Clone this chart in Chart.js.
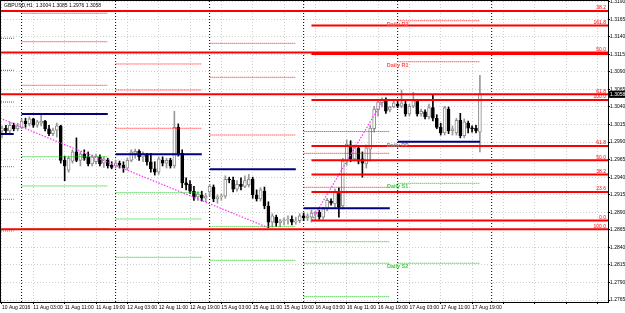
<!DOCTYPE html>
<html>
<head>
<meta charset="utf-8">
<title>GBPUSD,H1</title>
<script src="https://cdn.jsdelivr.net/npm/chart.js@4.4.0/dist/chart.umd.min.js"></script>
<style>
  html, body { margin: 0; padding: 0; background: #fff; }
  #wrap { width: 625px; height: 313px; position: relative; }
</style>
</head>
<body>
<div id="wrap"><canvas id="chart"></canvas></div>
<script>
// hourly bars, index 0 = 10 Aug 2016 19:00 (weekend hours skipped)
const opens = [
  1.3006, 1.3010, 1.3006, 1.3014, 1.3009, 1.3011, 1.3020, 1.3016, 1.3023, 1.3014,
  1.3017, 1.3020, 1.3009, 1.3002, 1.3007, 1.3013, 1.2964, 1.2950, 1.2963, 1.2976,
  1.2964, 1.2973, 1.2969, 1.2959, 1.2962, 1.2969, 1.2960, 1.2964, 1.2957, 1.2956,
  1.2960, 1.2957, 1.2953, 1.2964, 1.2974, 1.2977, 1.2969, 1.2972, 1.2962, 1.2952,
  1.2947, 1.2964, 1.2960, 1.2964, 1.2956, 1.3011, 1.2974, 1.2932, 1.2930, 1.2920,
  1.2912, 1.2915, 1.2910, 1.2919, 1.2926, 1.2909, 1.2912, 1.2913, 1.2937, 1.2936,
  1.2923, 1.2930, 1.2927, 1.2929, 1.2937, 1.2915, 1.2909, 1.2920, 1.2899, 1.2876,
  1.2883, 1.2875, 1.2878, 1.2879, 1.2880, 1.2876, 1.2878, 1.2885, 1.2882, 1.2883,
  1.2888, 1.2890, 1.2883, 1.2895, 1.2906, 1.2902, 1.2920, 1.2899, 1.2963, 1.2986,
  1.2966, 1.2982, 1.2966, 1.2959, 1.2980, 1.3009, 1.3036, 1.3046, 1.3050, 1.3036,
  1.3040, 1.3044, 1.3041, 1.3044, 1.3030, 1.3041, 1.3049, 1.3030, 1.3033, 1.3026,
  1.3039, 1.3024, 1.3011, 1.3003, 1.3037, 1.3006, 1.3003, 1.3021, 1.2999, 1.3017,
  1.3010, 1.3010, 1.3004
];
const highs = [
  1.3013, 1.3014, 1.3019, 1.3017, 1.3017, 1.3023, 1.3024, 1.3026, 1.3024, 1.3021,
  1.3029, 1.3021, 1.3014, 1.3010, 1.3017, 1.3014, 1.2970, 1.2970, 1.2979, 1.2996,
  1.2976, 1.2979, 1.2976, 1.2972, 1.2973, 1.2972, 1.2969, 1.2967, 1.2962, 1.2964,
  1.2963, 1.2962, 1.2967, 1.2979, 1.2980, 1.2979, 1.2976, 1.2974, 1.2974, 1.2962,
  1.2969, 1.2969, 1.2967, 1.2967, 1.3034, 1.3016, 1.2979, 1.2939, 1.2935, 1.2927,
  1.2919, 1.2920, 1.2917, 1.2930, 1.2929, 1.2915, 1.2916, 1.2942, 1.2940, 1.2940,
  1.2935, 1.2939, 1.2942, 1.2944, 1.2940, 1.2922, 1.2925, 1.2926, 1.2905, 1.2888,
  1.2886, 1.2880, 1.2882, 1.2885, 1.2885, 1.2883, 1.2888, 1.2889, 1.2888, 1.2893,
  1.2892, 1.2893, 1.2897, 1.2910, 1.2909, 1.2923, 1.2925, 1.2967, 1.2993, 1.2992,
  1.2986, 1.2984, 1.2976, 1.2986, 1.3014, 1.3041, 1.3050, 1.3053, 1.3053, 1.3041,
  1.3049, 1.3050, 1.3064, 1.3049, 1.3044, 1.3061, 1.3051, 1.3037, 1.3036, 1.3044,
  1.3058, 1.3029, 1.3017, 1.3041, 1.3040, 1.3013, 1.3024, 1.3031, 1.3023, 1.3020,
  1.3013, 1.3014, 1.3085
];
const lows = [
  1.2996, 1.3003, 1.3002, 1.3006, 1.3006, 1.3009, 1.3011, 1.3013, 1.3011, 1.3011,
  1.3013, 1.3006, 1.2999, 1.2999, 1.2997, 1.2960, 1.2935, 1.2947, 1.2960, 1.2962,
  1.2956, 1.2964, 1.2956, 1.2956, 1.2959, 1.2956, 1.2954, 1.2953, 1.2952, 1.2953,
  1.2953, 1.2947, 1.2950, 1.2962, 1.2967, 1.2964, 1.2962, 1.2957, 1.2947, 1.2943,
  1.2944, 1.2956, 1.2953, 1.2953, 1.2953, 1.2970, 1.2925, 1.2922, 1.2917, 1.2907,
  1.2907, 1.2906, 1.2905, 1.2913, 1.2905, 1.2903, 1.2907, 1.2910, 1.2932, 1.2919,
  1.2920, 1.2922, 1.2925, 1.2926, 1.2910, 1.2906, 1.2906, 1.2895, 1.2868, 1.2869,
  1.2870, 1.2869, 1.2872, 1.2873, 1.2872, 1.2873, 1.2875, 1.2878, 1.2878, 1.2876,
  1.2879, 1.2880, 1.2880, 1.2892, 1.2900, 1.2897, 1.2883, 1.2895, 1.2957, 1.2962,
  1.2963, 1.2959, 1.2940, 1.2953, 1.2963, 1.3004, 1.3027, 1.3040, 1.3031, 1.3033,
  1.3039, 1.3039, 1.3039, 1.3027, 1.3027, 1.3039, 1.3027, 1.3027, 1.3023, 1.3023,
  1.3020, 1.3009, 1.3000, 1.3000, 1.3002, 1.3000, 1.3000, 1.2996, 1.2996, 1.3003,
  1.3004, 1.3003, 1.2976
];
const closes = [
  1.3010, 1.3006, 1.3014, 1.3009, 1.3013, 1.3020, 1.3016, 1.3023, 1.3014, 1.3019,
  1.3020, 1.3009, 1.3002, 1.3007, 1.3013, 1.2964, 1.2956, 1.2967, 1.2976, 1.2964,
  1.2973, 1.2967, 1.2959, 1.2969, 1.2970, 1.2959, 1.2966, 1.2956, 1.2954, 1.2960,
  1.2957, 1.2953, 1.2964, 1.2976, 1.2977, 1.2969, 1.2973, 1.2962, 1.2952, 1.2947,
  1.2966, 1.2960, 1.2964, 1.2956, 1.3011, 1.2973, 1.2932, 1.2929, 1.2920, 1.2912,
  1.2916, 1.2910, 1.2913, 1.2927, 1.2909, 1.2912, 1.2913, 1.2937, 1.2936, 1.2923,
  1.2930, 1.2927, 1.2935, 1.2937, 1.2915, 1.2909, 1.2922, 1.2899, 1.2876, 1.2885,
  1.2875, 1.2878, 1.2879, 1.2880, 1.2876, 1.2878, 1.2885, 1.2882, 1.2885, 1.2889,
  1.2890, 1.2883, 1.2895, 1.2907, 1.2903, 1.2920, 1.2897, 1.2963, 1.2987, 1.2966,
  1.2983, 1.2963, 1.2960, 1.2982, 1.3010, 1.3037, 1.3047, 1.3051, 1.3034, 1.3040,
  1.3046, 1.3041, 1.3046, 1.3030, 1.3041, 1.3049, 1.3030, 1.3034, 1.3026, 1.3039,
  1.3024, 1.3011, 1.3003, 1.3039, 1.3006, 1.3009, 1.3021, 1.2999, 1.3019, 1.3010,
  1.3009, 1.3006, 1.3058
];

// time axis: a label every 8 bars
const timeTicks = [0, 8, 16, 24, 32, 40, 48, 56, 64, 72, 80, 88, 96, 104, 112, 120, 128, 136, 144, 152];
const timeLabels = ['10 Aug 2016', '11 Aug 03:00', '11 Aug 11:00', '11 Aug 19:00', '12 Aug 03:00',
  '12 Aug 11:00', '12 Aug 19:00', '15 Aug 03:00', '15 Aug 11:00', '15 Aug 19:00', '16 Aug 03:00',
  '16 Aug 11:00', '16 Aug 19:00', '17 Aug 03:00', '17 Aug 11:00', '17 Aug 19:00'];
const priceTicks = [1.2765, 1.2790, 1.2815, 1.2840, 1.2865, 1.2890, 1.2915, 1.2940, 1.2965,
  1.2990, 1.3015, 1.3040, 1.3065, 1.3090, 1.3115, 1.3140, 1.3165, 1.3190];
const daySeparators = [5, 29, 53, 77, 101, 125];

// daily pivot levels, one entry per day (10, 11, 12, 15, 16, 17 Aug)
const pivotStart = [-19, 5, 29, 53, 77, 101];
const pivotR3 = [1.31379, 1.31735, 1.31013, 1.31307, 1.30051, 1.32765];
const pivotR2 = [1.30923, 1.31330, 1.30642, 1.30823, 1.29740, 1.31629];
const pivotR1 = [1.30471, 1.30709, 1.30097, 1.30001, 1.29256, 1.31045];
const pivotPP = [1.30015, 1.30300, 1.29726, 1.29513, 1.28957, 1.29906];
const pivotS1 = [1.29550, 1.29692, 1.29179, 1.28695, 1.28481, 1.29313];
const pivotS2 = [1.29085, 1.29275, 1.28805, 1.28216, 1.28174, 1.28174];
const pivotS3 = [1.28634, 1.28666, 1.28259, 1.27380, 1.27698, 1.27598];

// two fibonacci retracements
const fibALevels = [0, 23.6, 38.2, 50, 61.8, 100, 138.2, 161.8];
const fibAZero = 1.28783, fibAHundred = 1.30500, fibAStart = 79;
const fibBLevels = [0, 23.6, 38.2, 50, 61.8, 100];
const fibBZero = 1.33692, fibBHundred = 1.28658, fibBStart = -1;

// zigzag segments
const zigIdx1 = [-0.5, 68], zigVal1 = [1.3024, 1.2868];
const zigIdx2 = [79, 97], zigVal2 = [1.2878, 1.3047];

const xMin = -0.255, xMax = 154.7;
const yMin = 1.27622, yMax = 1.31910;
const lastBar = closes.length - 1;
const FONT = 'Liberation Sans';

const bull = closes.map((c, i) => c >= opens[i]);

function hline(x0, x1, y, color, width, dash, order) {
  return {
    type: 'line', data: [{x: x0, y: y}, {x: x1, y: y}],
    borderColor: color, borderWidth: width, borderDash: dash,
    pointRadius: 0, fill: false, order: order
  };
}

const datasets = [];

daySeparators.forEach(s => {
  datasets.push({
    type: 'line', data: [{x: s, y: yMin}, {x: s, y: yMax}],
    borderColor: '#000', borderWidth: 1, borderDash: [1, 2], pointRadius: 0, order: 6
  });
});

datasets.push({
  type: 'bar',
  data: closes.map((c, i) => ({x: i, y: [lows[i], highs[i]]})),
  backgroundColor: bull.map(b => b ? '#999999' : '#000000'),
  barThickness: 1, grouped: false, order: 3
});
datasets.push({
  type: 'bar',
  data: closes.map((c, i) => ({x: i, y: [opens[i], c]})),
  backgroundColor: bull.map(b => b ? '#ffffff' : '#000000'),
  borderColor: bull.map(b => b ? '#8c8c8c' : '#000000'),
  borderWidth: 1, borderSkipped: false, minBarLength: 1,
  barThickness: 3, grouped: false, order: 2
});

pivotStart.forEach((s, d) => {
  const x0 = Math.max(s, xMin), x1 = Math.min(s + 22, lastBar);
  [pivotR3, pivotR2, pivotR1].forEach(arr => datasets.push(hline(x0, x1, arr[d], '#ff1010', 1, [1, 1], 1)));
  [pivotS1, pivotS2, pivotS3].forEach(arr => datasets.push(hline(x0, x1, arr[d], '#10c010', 1, [1, 1], 1)));
  datasets.push(hline(x0, x1, pivotPP[d], '#000080', 2, [], 0));
});

const fibA = fibALevels.map(l => fibAZero + (fibAHundred - fibAZero) * l / 100);
const fibB = fibBLevels.map(l => fibBZero + (fibBHundred - fibBZero) * l / 100);
fibA.forEach(p => datasets.push(hline(fibAStart, xMax, p, '#ff0000', 2, [], 0)));
fibB.forEach(p => datasets.push(hline(fibBStart, xMax, p, '#ff0000', 2, [], 0)));

[[zigIdx1, zigVal1], [zigIdx2, zigVal2]].forEach(([xs, ys]) => {
  datasets.push({
    type: 'line', data: xs.map((x, k) => ({x: x, y: ys[k]})),
    borderColor: '#ff33ff', borderWidth: 1.2, borderDash: [1.5, 1.5], pointRadius: 0, order: 0
  });
});

// texts drawn on the chart
const overlay = {
  id: 'overlay',
  afterDatasetsDraw(chart) {
    const {ctx, chartArea: a, scales: {x, y}} = chart;
    ctx.save();
    // fibonacci level labels
    ctx.font = '5px "' + FONT + '"';
    ctx.fillStyle = '#ff0000';
    ctx.textAlign = 'right';
    ctx.textBaseline = 'bottom';
    const drawFib = (levels, prices) => levels.forEach((l, k) => {
      if (l === 138.2) return;
      const py = y.getPixelForValue(prices[k]);
      if (py < a.top || py > a.bottom) return;
      ctx.fillText(l.toFixed(1), a.right - 2, py - 0.5);
    });
    drawFib(fibALevels, fibA);
    drawFib(fibBLevels, fibB);

    // daily pivot names on the last day
    const d = pivotStart.length - 1;
    const names = [['Daily R2', pivotR2[d], '#ff5050'], ['Daily R1', pivotR1[d], '#ff5050'],
      ['Daily PP', pivotPP[d], '#8a8a8a'], ['Daily S1', pivotS1[d], '#40c840'], ['Daily S2', pivotS2[d], '#40c840']];
    ctx.font = 'bold 5.5px "' + FONT + '"';
    ctx.textAlign = 'center';
    ctx.textBaseline = 'middle';
    const px = x.getPixelForValue(pivotStart[d]);
    names.forEach(([t, p, c]) => {
      ctx.fillStyle = c;
      ctx.fillText(t, px, y.getPixelForValue(p) + 3.5);
    });
    ctx.restore();
  },
  afterDraw(chart) {
    const {ctx, chartArea: a, scales: {y}} = chart;
    ctx.save();
    ctx.strokeStyle = '#000';
    ctx.lineWidth = 1;
    ctx.strokeRect(a.left - 0.5, a.top - 0.5, a.right - a.left + 1, a.bottom - a.top + 1);

    ctx.font = '5px "' + FONT + '"';
    ctx.fillStyle = '#000';
    ctx.textAlign = 'left';
    ctx.textBaseline = 'top';
    ctx.fillText('GBPUSD,H1  ' + [opens[lastBar], highs[lastBar], lows[lastBar], closes[lastBar]]
      .map(v => v.toFixed(4)).join(' '), a.left + 3, a.top + 2);

    // current price box
    const cy = y.getPixelForValue(closes[lastBar]);
    ctx.fillStyle = '#000';
    ctx.fillRect(a.right + 1, cy - 3.5, 17, 7);
    ctx.fillStyle = '#fff';
    ctx.textBaseline = 'middle';
    ctx.fillText(closes[lastBar].toFixed(4), a.right + 2, cy + 0.5);
    ctx.restore();
  }
};

new Chart(document.getElementById('chart'), {
  type: 'bar',
  data: { datasets: datasets },
  options: {
    responsive: true,
    maintainAspectRatio: false,
    animation: false,
    events: [],
    layout: { padding: { left: 1, top: 1, right: 0, bottom: 0 } },
    plugins: { legend: { display: false }, tooltip: { enabled: false } },
    scales: {
      x: {
        type: 'linear', min: xMin, max: xMax, offset: false,
        afterBuildTicks: s => { s.ticks = timeTicks.map(v => ({value: v})); },
        afterFit: s => { s.height = 11; s.paddingLeft = 0; s.paddingRight = 0; },
        ticks: {
          autoSkip: false, maxRotation: 0, align: 'start', padding: 1,
          color: '#000', font: { family: FONT, size: 5 },
          callback: v => { const k = timeTicks.indexOf(v); return k < timeLabels.length ? timeLabels[k] : ''; }
        },
        grid: { offset: false, color: '#cfcfcf', lineWidth: 1, tickLength: 2, tickColor: '#000', tickBorderDash: [] },
        border: { display: true, color: '#000', width: 1, dash: [1, 2] }
      },
      y: {
        position: 'right', min: yMin, max: yMax,
        afterBuildTicks: s => { s.ticks = priceTicks.map(v => ({value: v})); },
        afterFit: s => { s.width = 17; s.paddingTop = 0; s.paddingBottom = 0; },
        ticks: {
          autoSkip: false, padding: 0, color: '#000', font: { family: FONT, size: 5 },
          callback: v => v.toFixed(4)
        },
        grid: { color: '#cfcfcf', lineWidth: 1, tickLength: 2, tickColor: '#000', tickBorderDash: [] },
        border: { display: true, color: '#000', width: 1, dash: [1, 2] }
      }
    }
  },
  plugins: [overlay]
});
</script>
</body>
</html>
